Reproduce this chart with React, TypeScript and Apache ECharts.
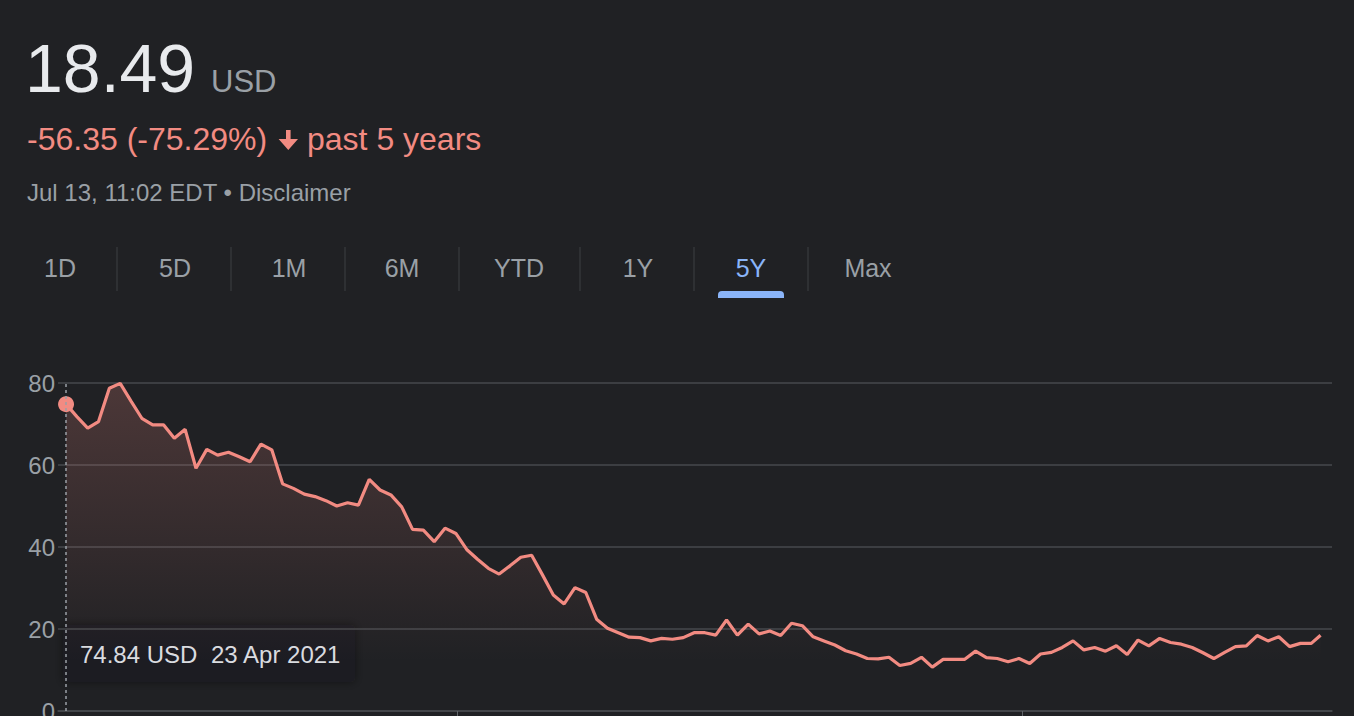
import React, { useEffect, useRef } from "react";
import * as echarts from "echarts";

const FONT = 'Arial, "Liberation Sans", Helvetica, sans-serif';

const startDate = "2021-04-23";
const lastDate = "2023-07-13";
const yearTicks = ["2022-01-01", "2023-01-01"];
const yTicks = [0, 20, 40, 60, 80];
const tabs = ["1D", "5D", "1M", "6M", "YTD", "1Y", "5Y", "Max"];
const activeTab = "5Y";

// weekly closing prices (USD)
const prices = [
  74.84, 71.8, 69.0, 70.6, 78.7, 79.9, 75.6, 71.4, 69.8, 69.8,
  66.5, 68.7, 59.2, 63.8, 62.4, 63.1, 62.0, 60.8, 65.1, 63.7,
  55.4, 54.3, 52.9, 52.3, 51.3, 50.0, 50.8, 50.2, 56.5, 53.9,
  52.7, 49.8, 44.3, 44.1, 41.3, 44.6, 43.3, 39.4, 37.0, 34.8,
  33.4, 35.4, 37.5, 38.0, 33.2, 28.3, 26.1, 30.1, 28.9, 22.4,
  20.2, 19.1, 18.0, 17.9, 17.1, 17.7, 17.5, 17.9, 19.1, 19.1,
  18.5, 22.2, 18.5, 21.2, 18.8, 19.5, 18.4, 21.4, 20.8, 18.1,
  17.1, 16.1, 14.7, 13.9, 12.8, 12.7, 13.1, 11.1, 11.6, 13.1,
  10.7, 12.6, 12.6, 12.6, 14.6, 13.0, 12.8, 12.0, 12.8, 11.6,
  13.9, 14.3, 15.5, 17.1, 14.9, 15.5, 14.6, 15.9, 13.8, 17.3,
  15.9, 17.7, 16.7, 16.3, 15.5, 14.2, 12.8, 14.3, 15.7, 15.9,
  18.4, 17.1, 18.1, 15.7, 16.5, 16.5, 18.49,
];

const headline = {
  price: "18.49",
  currency: "USD",
  change: "-56.35 (-75.29%)",
  period: "past 5 years",
  stamp: "Jul 13, 11:02 EDT • Disclaimer",
  tipValue: "74.84 USD",
  tipDate: "23 Apr 2021",
};

const DAY = 86400000;

function buildDates(): number[] {
  const t0 = new Date(startDate + "T00:00:00Z").getTime();
  const out: number[] = [];
  for (let i = 0; i < prices.length; i++) out.push(t0 + i * 7 * DAY);
  out[out.length - 1] = new Date(lastDate + "T00:00:00Z").getTime();
  return out;
}

export default function App() {
  const ref = useRef<HTMLDivElement>(null);

  useEffect(() => {
    if (!ref.current) return;
    const chart = echarts.init(ref.current, null, { renderer: "svg" });
    const dates = buildDates();
    const series = dates.map((d, i) => [d, prices[i]]);
    const t0 = dates[0];
    const tEnd = dates[dates.length - 1];

    const red = "#f28b82";
    const gray = "#9aa0a6";
    const gridColor = "#46494d";

    const tabX = [60, 175, 289, 402, 519, 638, 751, 868];
    const sepX = [117, 231, 345, 459, 580, 694, 808];

    const graphics: any[] = [
      {
        type: "text",
        x: 25,
        y: 68,
        style: { text: headline.price, fill: "#e8eaed", font: `68px ${FONT}`, verticalAlign: "middle" },
      },
      {
        type: "text",
        x: 211,
        y: 81,
        style: { text: headline.currency, fill: gray, font: `31px ${FONT}`, verticalAlign: "middle" },
      },
      {
        type: "text",
        x: 27,
        y: 139,
        style: { text: headline.change, fill: red, font: `32px ${FONT}`, verticalAlign: "middle" },
      },
      {
        type: "polygon",
        shape: {
          points: [
            [286, 130], [290.6, 130], [290.6, 139], [298, 139], [288.3, 150], [278.6, 139], [286, 139],
          ],
        },
        style: { fill: red },
      },
      {
        type: "text",
        x: 307,
        y: 139,
        style: { text: headline.period, fill: red, font: `32px ${FONT}`, verticalAlign: "middle" },
      },
      {
        type: "text",
        x: 27,
        y: 192,
        style: { text: headline.stamp, fill: gray, font: `24px ${FONT}`, verticalAlign: "middle" },
      },
    ];

    tabs.forEach((t, i) => {
      graphics.push({
        type: "text",
        x: tabX[i],
        y: 268,
        style: {
          text: t,
          fill: t === activeTab ? "#8ab4f8" : gray,
          font: `25px ${FONT}`,
          align: "center",
          verticalAlign: "middle",
        },
      });
    });
    sepX.forEach((x) => {
      graphics.push({
        type: "line",
        shape: { x1: x, y1: 247, x2: x, y2: 291 },
        style: { stroke: "#3c4043", lineWidth: 1 },
      });
    });
    graphics.push({
      type: "rect",
      shape: { x: 718, y: 291, width: 66, height: 7, r: [4, 4, 0, 0] },
      style: { fill: "#8ab4f8" },
    });

    // tooltip box
    graphics.push({
      type: "group",
      z: 100,
      children: [
        {
          type: "rect",
          shape: { x: 63, y: 625, width: 292, height: 57, r: 4 },
          style: { fill: "#1e1f22", shadowBlur: 10, shadowColor: "rgba(0,0,0,0.45)" },
        },
        {
          type: "text",
          x: 80,
          y: 654,
          style: { text: headline.tipValue, fill: "#dadce0", font: `24px ${FONT}`, verticalAlign: "middle" },
        },
        {
          type: "text",
          x: 211,
          y: 654,
          style: { text: headline.tipDate, fill: "#dadce0", font: `24px ${FONT}`, verticalAlign: "middle" },
        },
      ],
    });

    chart.setOption({
      animation: false,
      backgroundColor: "#202124",
      textStyle: { fontFamily: FONT },
      grid: {
        left: 58,
        right: 22,
        top: 383,
        bottom: 5,
        containLabel: false,
        outerBoundsMode: "none",
      },
      xAxis: {
        type: "time",
        min: t0 - 5.2 * DAY,
        max: tEnd + 7.4 * DAY,
        axisLine: { show: true, lineStyle: { color: gridColor, width: 1.5 } },
        axisTick: {
          show: true,
          customValues: yearTicks.map((d) => new Date(d + "T00:00:00Z").getTime()),
          length: 8,
          lineStyle: { color: "#5f6368" },
        },
        axisLabel: { show: false },
        splitLine: { show: false },
      },
      yAxis: {
        type: "value",
        min: 0,
        max: 80,
        interval: 20,
        axisLine: { show: false },
        axisTick: { show: false },
        axisLabel: {
          color: gray,
          fontSize: 24,
          fontFamily: FONT,
          margin: 3,
          verticalAlign: "middle",
          customValues: yTicks,
        },
        splitLine: { show: true, lineStyle: { color: gridColor, width: 1.5 } },
      },
      series: [
        {
          type: "line",
          data: series,
          showSymbol: false,
          symbol: "none",
          lineStyle: { color: red, width: 3.2 },
          areaStyle: {
            color: new echarts.graphic.LinearGradient(0, 0, 0, 1, [
              { offset: 0, color: "rgba(242,139,130,0.3)" },
              { offset: 0.55, color: "rgba(242,139,130,0.11)" },
              { offset: 0.85, color: "rgba(242,139,130,0)" },
              { offset: 1, color: "rgba(242,139,130,0)" },
            ]),
          },
          markLine: {
            silent: true,
            symbol: "none",
            label: { show: false },
            lineStyle: { color: gray, type: [3, 3], width: 1.5 },
            data: [{ xAxis: t0 }],
          },
          z: 2,
        },
        {
          type: "scatter",
          data: [[t0, prices[0]]],
          symbolSize: 16,
          itemStyle: { color: red, opacity: 1 },
          z: 3,
        },
      ],
      graphic: graphics,
    });

    return () => chart.dispose();
  }, []);

  return (
    <div
      ref={ref}
      style={{ position: "fixed", left: 0, top: 0, width: 1354, height: 716, background: "#202124" }}
    />
  );
}
